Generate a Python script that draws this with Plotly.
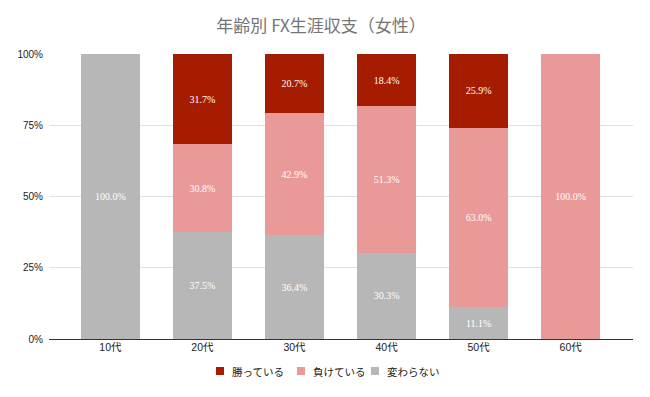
import plotly.graph_objects as go

categories = ["10代", "20代", "30代", "40代", "50代", "60代"]
series_names = ["勝っている", "負けている", "変わらない"]
win = [0, 31.7, 20.7, 18.4, 25.9, 0]
lose = [0, 30.8, 42.9, 51.3, 63.0, 100.0]
same = [100.0, 37.5, 36.4, 30.3, 11.1, 0]
y_ticks = [0, 25, 50, 75, 100]
y_tick_labels = ["0%", "25%", "50%", "75%", "100%"]
title = "年齢別 FX生涯収支（女性）"

colors = {"勝っている": "#a61c00", "負けている": "#ea9999", "変わらない": "#b7b7b7"}

W, H = 650, 397
ML, MR, MT, MB = 49, 17, 54, 58
PW, PH = W - ML - MR, H - MT - MB

fig = go.Figure()
xs = list(range(len(categories)))
for name, vals in [("変わらない", same), ("負けている", lose), ("勝っている", win)]:
    fig.add_trace(go.Bar(
        x=xs, y=vals, name=name,
        marker=dict(color=colors[name], line=dict(width=0)),
        width=0.645,
        text=[f"{v:.1f}%" if v > 0 else "" for v in vals],
        textposition="inside", insidetextanchor="middle",
        textfont=dict(family="Liberation Serif", size=10, color="white"),
        textangle=0,
        hoverinfo="skip",
        showlegend=False,
    ))

# custom legend (pixel positions converted to paper coordinates)
legend_y_px = 371
legend_sq_x = [216, 297, 371]
sq = 8
yc = 1 - (legend_y_px - MT) / PH
for name, px in zip(series_names, legend_sq_x):
    fig.add_shape(type="rect", xref="paper", yref="paper",
                  x0=(px - ML) / PW, x1=(px + sq - ML) / PW,
                  y0=yc - (sq / 2) / PH, y1=yc + (sq / 2) / PH,
                  fillcolor=colors[name], line=dict(width=0))
    fig.add_annotation(text=name, xref="paper", yref="paper",
                       x=(px + sq + 6 - ML) / PW, y=yc, xanchor="left", yanchor="middle",
                       showarrow=False,
                       font=dict(family="Noto Sans CJK JP", size=10.5, color="#222222"))

fig.update_layout(
    barmode="stack",
    width=W, height=H,
    margin=dict(l=ML, r=MR, t=MT, b=MB, autoexpand=False),
    paper_bgcolor="white", plot_bgcolor="white",
    title=dict(text=title, x=0.494, xanchor="center", y=1 - 26 / H, yanchor="middle",
               font=dict(family="Noto Sans CJK JP", size=17, color="#757575")),
    font=dict(family="Liberation Sans", size=10, color="#222222"),
    showlegend=False,
    uniformtext=dict(minsize=8, mode="show"),
)
fig.update_xaxes(
    tickmode="array", tickvals=xs, ticktext=categories,
    range=[-0.667, 5.677], showgrid=False, zeroline=False,
    showline=False, ticks="",
    tickfont=dict(family="Liberation Sans, Noto Sans CJK JP", size=10.5, color="#222222"),
)
fig.update_yaxes(
    range=[0, 100], tickvals=y_ticks, ticktext=y_tick_labels,
    showgrid=True, gridcolor="#e0e0e0", gridwidth=1,
    zeroline=True, zerolinecolor="#333333", zerolinewidth=1,
    ticks="", ticklabelstandoff=5,
    tickfont=dict(family="Liberation Sans", size=10, color="#222222"),
)

fig.write_html("out.html", config={"displayModeBar": False},
               post_script="document.body.style.margin='0';")
